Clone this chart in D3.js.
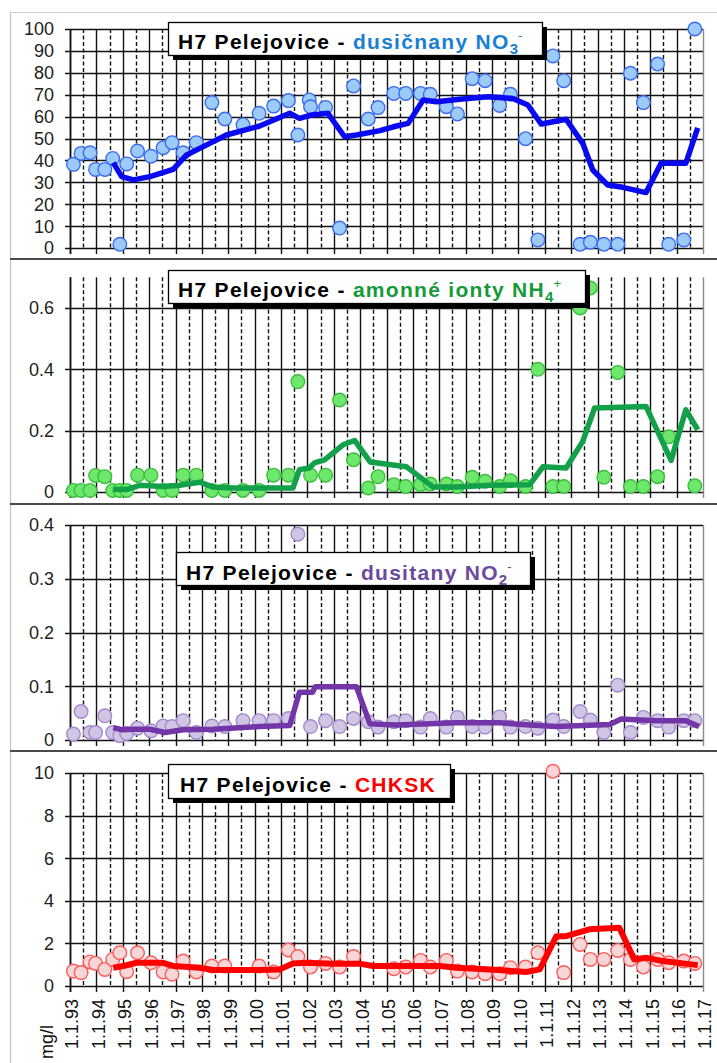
<!DOCTYPE html>
<html>
<head>
<meta charset="utf-8">
<script src="https://cdn.jsdelivr.net/npm/d3@7"></script>
<style>
  html, body { margin: 0; padding: 0; background: #fff; }
  svg { display: block; font-family: Arial, "Liberation Sans", sans-serif; }
</style>
</head>
<body>
<svg id="chart" width="717" height="1063"></svg>
<script>
// Sampling dates (decimal years), shared by all four determinands
const sampleYears = [
  1993.13, 1993.42, 1993.76, 1993.97, 1994.32, 1994.62, 1994.89, 1995.15, 1995.56, 1996.07,
  1996.53, 1996.87, 1997.29, 1997.79, 1998.38, 1998.87, 1999.56, 2000.17, 2000.72, 2001.28,
  2001.64, 2002.07, 2002.12, 2002.69, 2003.22, 2003.75, 2004.31, 2004.68, 2005.28, 2005.73,
  2006.29, 2006.66, 2007.27, 2007.69, 2008.25, 2008.74, 2009.29, 2009.70, 2010.27, 2010.74,
  2011.31, 2011.72, 2012.34, 2012.73, 2013.24, 2013.77, 2014.25, 2014.74, 2015.28, 2015.70,
  2016.27, 2016.69
];

// Nitrates NO3- [mg/l]
const nitrate = [
  38.2, 43.2, 43.5, 35.9, 35.9, 40.9, 1.7, 38.4, 44.3, 41.9,
  45.8, 48.1, 43.5, 48.1, 66.4, 58.9, 56.3, 61.5, 64.8, 67.3,
  51.6, 67.6, 64.5, 64.2, 9.1, 74.0, 58.9, 64.1, 70.6, 70.6,
  70.6, 70.2, 64.5, 61.2, 77.3, 76.4, 65.1, 70.2, 49.9, 3.7,
  87.7, 76.4, 1.7, 2.6, 1.7, 1.7, 79.8, 66.4, 84.0, 1.7,
  3.7, 100.0
];

// Ammonium NH4+ [mg/l]
const ammonium = [
  0.005, 0.005, 0.005, 0.054, 0.05, 0.005, 0.005, 0.005, 0.055, 0.055,
  0.005, 0.005, 0.055, 0.055, 0.005, 0.005, 0.005, 0.005, 0.055, 0.055,
  0.36, null, 0.055, 0.055, 0.30, 0.105, 0.013, 0.05, 0.024, 0.018,
  0.024, 0.026, 0.026, 0.018, 0.048, 0.035, 0.018, 0.037, 0.018, 0.40,
  0.018, 0.018, 0.60, 0.665, 0.048, 0.39, 0.018, 0.018, 0.05, 0.18,
  null, 0.02
];

// Nitrites NO2- [mg/l]
const nitrite = [
  0.011, 0.053, 0.014, 0.014, 0.045, 0.014, 0.008, 0.012, 0.022, 0.017,
  0.026, 0.025, 0.036, 0.014, 0.026, 0.025, 0.036, 0.036, 0.036, 0.040,
  0.383, null, 0.025, 0.036, 0.025, 0.040, 0.034, 0.024, 0.034, 0.036,
  0.024, 0.040, 0.024, 0.042, 0.025, 0.024, 0.043, 0.024, 0.025, 0.022,
  0.037, 0.025, 0.053, 0.037, 0.014, 0.102, 0.014, 0.042, 0.036, 0.024,
  0.036, 0.036
];

// CHKSK [mg/l]
const chksk = [
  0.70, 0.63, 1.13, 1.06, 0.78, 1.25, 1.56, 0.67, 1.56, 1.09,
  0.66, 0.55, 1.17, 0.66, 0.94, 0.94, null, 0.94, 0.66, 1.69,
  1.38, null, 0.89, 1.06, 0.89, 1.38, null, null, 0.81, 0.89,
  1.20, 0.89, 1.20, 0.70, 0.66, 0.58, 0.58, 0.86, 0.89, 1.56,
  10.08, 0.63, 1.95, 1.25, 1.25, 1.67, 1.25, 0.89, 1.25, 1.09,
  1.17, 1.06
];

// Moving-average trend lines
const nitrateTrendYears = [1994.64, 1994.96, 1995.40, 1996.03, 1996.91, 1997.42, 1997.92, 1998.93, 2000.19, 2001.33, 2001.70, 2002.15, 2002.78, 2003.41, 2003.86, 2004.75, 2005.38, 2005.82, 2006.39, 2006.89, 2007.77, 2008.85, 2009.79, 2010.36, 2010.87, 2011.81, 2012.44, 2012.82, 2013.39, 2013.96, 2014.84, 2015.41, 2016.35, 2016.80];
const nitrateTrend      = [39.0, 32.6, 31.1, 32.6, 35.9, 42.5, 45.5, 51.6, 55.7, 61.5, 59.2, 60.7, 61.5, 50.8, 51.6, 53.6, 55.7, 56.9, 67.6, 66.8, 67.9, 69.1, 68.3, 65.3, 56.6, 58.8, 47.8, 35.6, 28.8, 27.7, 25.3, 38.7, 38.7, 54.9];

const ammoniumTrendYears = [1994.64, 1995.15, 1995.65, 1996.53, 1997.16, 1997.92, 1998.43, 1999.18, 2000.19, 2001.45, 2001.70, 2002.07, 2002.27, 2002.65, 2003.35, 2003.79, 2004.38, 2005.76, 2006.77, 2007.65, 2008.92, 2010.43, 2010.93, 2011.81, 2012.44, 2012.89, 2014.84, 2015.79, 2016.35, 2016.80];
const ammoniumTrend      = [0.008, 0.008, 0.022, 0.018, 0.022, 0.032, 0.016, 0.013, 0.013, 0.013, 0.073, 0.078, 0.095, 0.105, 0.154, 0.168, 0.098, 0.082, 0.016, 0.016, 0.022, 0.024, 0.082, 0.078, 0.165, 0.274, 0.279, 0.103, 0.268, 0.203];

const nitriteTrendYears = [1994.64, 1994.96, 1995.40, 1996.03, 1996.60, 1997.29, 1998.43, 2000.19, 2001.33, 2001.70, 2002.20, 2002.30, 2003.86, 2004.37, 2005.38, 2007.65, 2009.29, 2010.43, 2011.44, 2013.46, 2013.90, 2015.22, 2016.35, 2016.85];
const nitriteTrend      = [0.023, 0.019, 0.020, 0.020, 0.014, 0.019, 0.020, 0.025, 0.027, 0.089, 0.089, 0.099, 0.099, 0.030, 0.028, 0.032, 0.032, 0.028, 0.025, 0.029, 0.039, 0.036, 0.036, 0.025];

const chkskTrendYears = [1994.64, 1995.02, 1995.53, 1996.53, 1996.91, 1997.92, 1998.43, 2000.19, 2000.95, 2001.45, 2001.96, 2002.97, 2003.98, 2004.49, 2007.02, 2007.65, 2008.92, 2010.30, 2010.81, 2011.44, 2011.81, 2012.69, 2013.83, 2014.39, 2014.84, 2015.47, 2016.80];
const chkskTrend      = [0.86, 0.94, 1.09, 1.09, 0.94, 0.86, 0.75, 0.75, 0.78, 1.06, 1.09, 1.05, 1.05, 0.94, 0.94, 0.86, 0.78, 0.66, 0.78, 2.34, 2.34, 2.66, 2.73, 1.25, 1.33, 1.17, 0.98];

// Axis ticks and labels
const yearTicks = [1993, 1994, 1995, 1996, 1997, 1998, 1999, 2000, 2001, 2002, 2003, 2004, 2005, 2006, 2007, 2008, 2009, 2010, 2011, 2012, 2013, 2014, 2015, 2016, 2017];
const yearTickLabels = ["1.1.93", "1.1.94", "1.1.95", "1.1.96", "1.1.97", "1.1.98", "1.1.99", "1.1.00", "1.1.01", "1.1.02", "1.1.03", "1.1.04", "1.1.05", "1.1.06", "1.1.07", "1.1.08", "1.1.09", "1.1.10", "1.1.11", "1.1.12", "1.1.13", "1.1.14", "1.1.15", "1.1.16", "1.1.17"];
const nitrateTicks  = [0, 10, 20, 30, 40, 50, 60, 70, 80, 90, 100];
const ammoniumTicks = [0, 0.2, 0.4, 0.6];
const nitriteTicks  = [0, 0.1, 0.2, 0.3, 0.4];
const chkskTicks    = [0, 2, 4, 6, 8, 10];
const unitLabel = "mg/l";

// Panel layout and styling
const panels = [
  { values: nitrate, trendX: nitrateTrendYears, trendY: nitrateTrend, ticks: nitrateTicks,
    max: 100, y0: 248, y1: 29, clipTop: 12, clipBottom: 259,
    fill: "#9ccbfa", stroke: "#3d6cf2", line: "#0a0af0", lineW: 5.5,
    box: { x: 168, y: 22, w: 374, h: 33, tx: 178, ty: 49 },
    title: [{ t: "H7 Pelejovice - ", c: "#000" }, { t: "dusičnany NO", c: "#1a7fd4" }, { t: "3", c: "#1a7fd4", sub: true }, { t: "-", c: "#1a7fd4", sup: true }] },
  { values: ammonium, trendX: ammoniumTrendYears, trendY: ammoniumTrend, ticks: ammoniumTicks,
    max: 0.7, y0: 492, y1: 277.3, clipTop: 259, clipBottom: 504,
    fill: "#6de86d", stroke: "#3cbf3c", line: "#13a04a", lineW: 5.5,
    box: { x: 168, y: 270, w: 417, h: 33, tx: 178, ty: 297 },
    title: [{ t: "H7 Pelejovice - ", c: "#000" }, { t: "amonné ionty NH", c: "#159a3a" }, { t: "4", c: "#159a3a", sub: true }, { t: "+", c: "#159a3a", sup: true }] },
  { values: nitrite, trendX: nitriteTrendYears, trendY: nitriteTrend, ticks: nitriteTicks,
    max: 0.4, y0: 740, y1: 525, clipTop: 504, clipBottom: 751,
    fill: "#d0c5e3", stroke: "#a58ace", line: "#7236a8", lineW: 5.5,
    box: { x: 176, y: 552, w: 354, h: 33, tx: 186, ty: 580 },
    title: [{ t: "H7 Pelejovice - ", c: "#000" }, { t: "dusitany NO", c: "#6a4a9c" }, { t: "2", c: "#6a4a9c", sub: true }, { t: "-", c: "#6a4a9c", sup: true }] },
  { values: chksk, trendX: chkskTrendYears, trendY: chkskTrend, ticks: chkskTicks,
    max: 10, y0: 986, y1: 773, clipTop: 751, clipBottom: 1063,
    fill: "#f6d6d6", stroke: "#ff5c5c", line: "#ff0000", lineW: 6,
    box: { x: 168, y: 764, w: 282, h: 34, tx: 180, ty: 792 },
    title: [{ t: "H7 Pelejovice - ", c: "#000" }, { t: "CHKSK", c: "#ff0000" }] }
];

const svg = d3.select("#chart");
const x = d3.scaleLinear().domain([1993, 2017]).range([70, 703]);
const fmt = v => String(+v.toFixed(2));

// Outer frame lines
svg.append("line").attr("x1", 10).attr("x2", 717).attr("y1", 12.5).attr("y2", 12.5)
  .attr("stroke", "#cfcfcf").attr("stroke-width", 1.2);
svg.append("line").attr("x1", 10.5).attr("x2", 10.5).attr("y1", 12).attr("y2", 1063)
  .attr("stroke", "#c4c4c4").attr("stroke-width", 1.2);

const defs = svg.append("defs");

panels.forEach((p, i) => {
  const y = d3.scaleLinear().domain([0, p.max]).range([p.y0, p.y1]);

  defs.append("clipPath").attr("id", "clip" + i)
    .append("rect").attr("x", 11).attr("y", p.clipTop).attr("width", 706).attr("height", p.clipBottom - p.clipTop);

  const g = svg.append("g").attr("clip-path", `url(#clip${i})`);

  // Horizontal grid lines with outside tick stubs
  g.append("g").selectAll("line").data(p.ticks).join("line")
    .attr("x1", 65).attr("x2", x(2017))
    .attr("y1", d => Math.round(y(d)) + 0.5).attr("y2", d => Math.round(y(d)) + 0.5)
    .attr("stroke", "#111").attr("stroke-width", 1.4);

  // Vertical grid: solid on 1 January, dashed at mid-year
  g.append("g").selectAll("line").data(yearTicks).join("line")
    .attr("x1", d => Math.round(x(d)) + 0.5).attr("x2", d => Math.round(x(d)) + 0.5)
    .attr("y1", y(p.max)).attr("y2", p.y0 + 6)
    .attr("stroke", d => d === 2017 ? "#8a8a8a" : "#111").attr("stroke-width", 1.4);

  const midYears = yearTicks.slice(0, -1).map(d => d + 0.5);
  g.append("g").selectAll("line").data(midYears).join("line")
    .attr("x1", d => Math.round(x(d)) + 0.5).attr("x2", d => Math.round(x(d)) + 0.5)
    .attr("y1", y(p.max)).attr("y2", p.y0)
    .attr("stroke", "#111").attr("stroke-width", 1.4).attr("stroke-dasharray", "4,2.5");

  // Left axis line
  g.append("line").attr("x1", x(1993) + 0.5).attr("x2", x(1993) + 0.5)
    .attr("y1", y(p.max)).attr("y2", p.y0 + 6).attr("stroke", "#111").attr("stroke-width", 1.6);

  // Y tick labels
  g.append("g").selectAll("text").data(p.ticks).join("text")
    .attr("x", 54).attr("y", d => y(d)).attr("dy", "0.36em")
    .attr("text-anchor", "end").attr("font-size", 18).attr("fill", "#222")
    .text(fmt);

  // X tick labels (rotated)
  g.append("g").selectAll("text").data(yearTicks).join("text")
    .attr("transform", d => `translate(${x(d) + 2},${p.y0 + 13}) rotate(-90)`)
    .attr("dy", "0.36em").attr("text-anchor", "end")
    .attr("font-size", 18).attr("fill", "#111")
    .text((d, k) => yearTickLabels[k]);

  // Sample markers
  const pts = sampleYears.map((t, k) => [t, p.values[k]]).filter(d => d[1] != null);
  g.append("g").selectAll("circle").data(pts).join("circle")
    .attr("cx", d => x(d[0])).attr("cy", d => y(d[1])).attr("r", 6.8)
    .attr("fill", p.fill).attr("stroke", p.stroke).attr("stroke-width", 1.4);

  // Trend line
  const line = d3.line().x(d => x(d[0])).y(d => y(d[1]));
  g.append("path").datum(p.trendX.map((t, k) => [t, p.trendY[k]]))
    .attr("d", line).attr("fill", "none").attr("stroke", p.line)
    .attr("stroke-width", p.lineW).attr("stroke-linejoin", "round").attr("stroke-linecap", "butt");

  // Title box with drop shadow
  const b = p.box;
  g.append("rect").attr("x", b.x + 5).attr("y", b.y + 5).attr("width", b.w).attr("height", b.h).attr("fill", "#000");
  g.append("rect").attr("x", b.x + 0.5).attr("y", b.y + 0.5).attr("width", b.w).attr("height", b.h)
    .attr("fill", "#fff").attr("stroke", "#000").attr("stroke-width", 1.3);
  const tt = g.append("text").attr("x", b.tx).attr("y", b.ty)
    .attr("font-size", 21).attr("font-weight", "bold").attr("letter-spacing", "1.3px")
    .attr("xml:space", "preserve");
  p.title.forEach(part => {
    const s = tt.append("tspan").attr("fill", part.c).text(part.t);
    if (part.sub) s.attr("font-size", 15).attr("dy", 5).attr("letter-spacing", "0px");
    if (part.sup) s.attr("font-size", 13).attr("dy", -14).attr("letter-spacing", "0px").attr("font-weight", "normal");
  });

  // Panel separator
  if (i > 0) {
    svg.append("line").attr("x1", 10).attr("x2", 717).attr("y1", p.clipTop).attr("y2", p.clipTop)
      .attr("stroke", "#4a4a4a").attr("stroke-width", 2);
  }
});

// Unit label
svg.append("text")
  .attr("transform", "translate(47,1025) rotate(-90)")
  .attr("dy", "0.36em").attr("text-anchor", "end")
  .attr("font-size", 18).attr("fill", "#111")
  .text(unitLabel);
</script>
</body>
</html>
